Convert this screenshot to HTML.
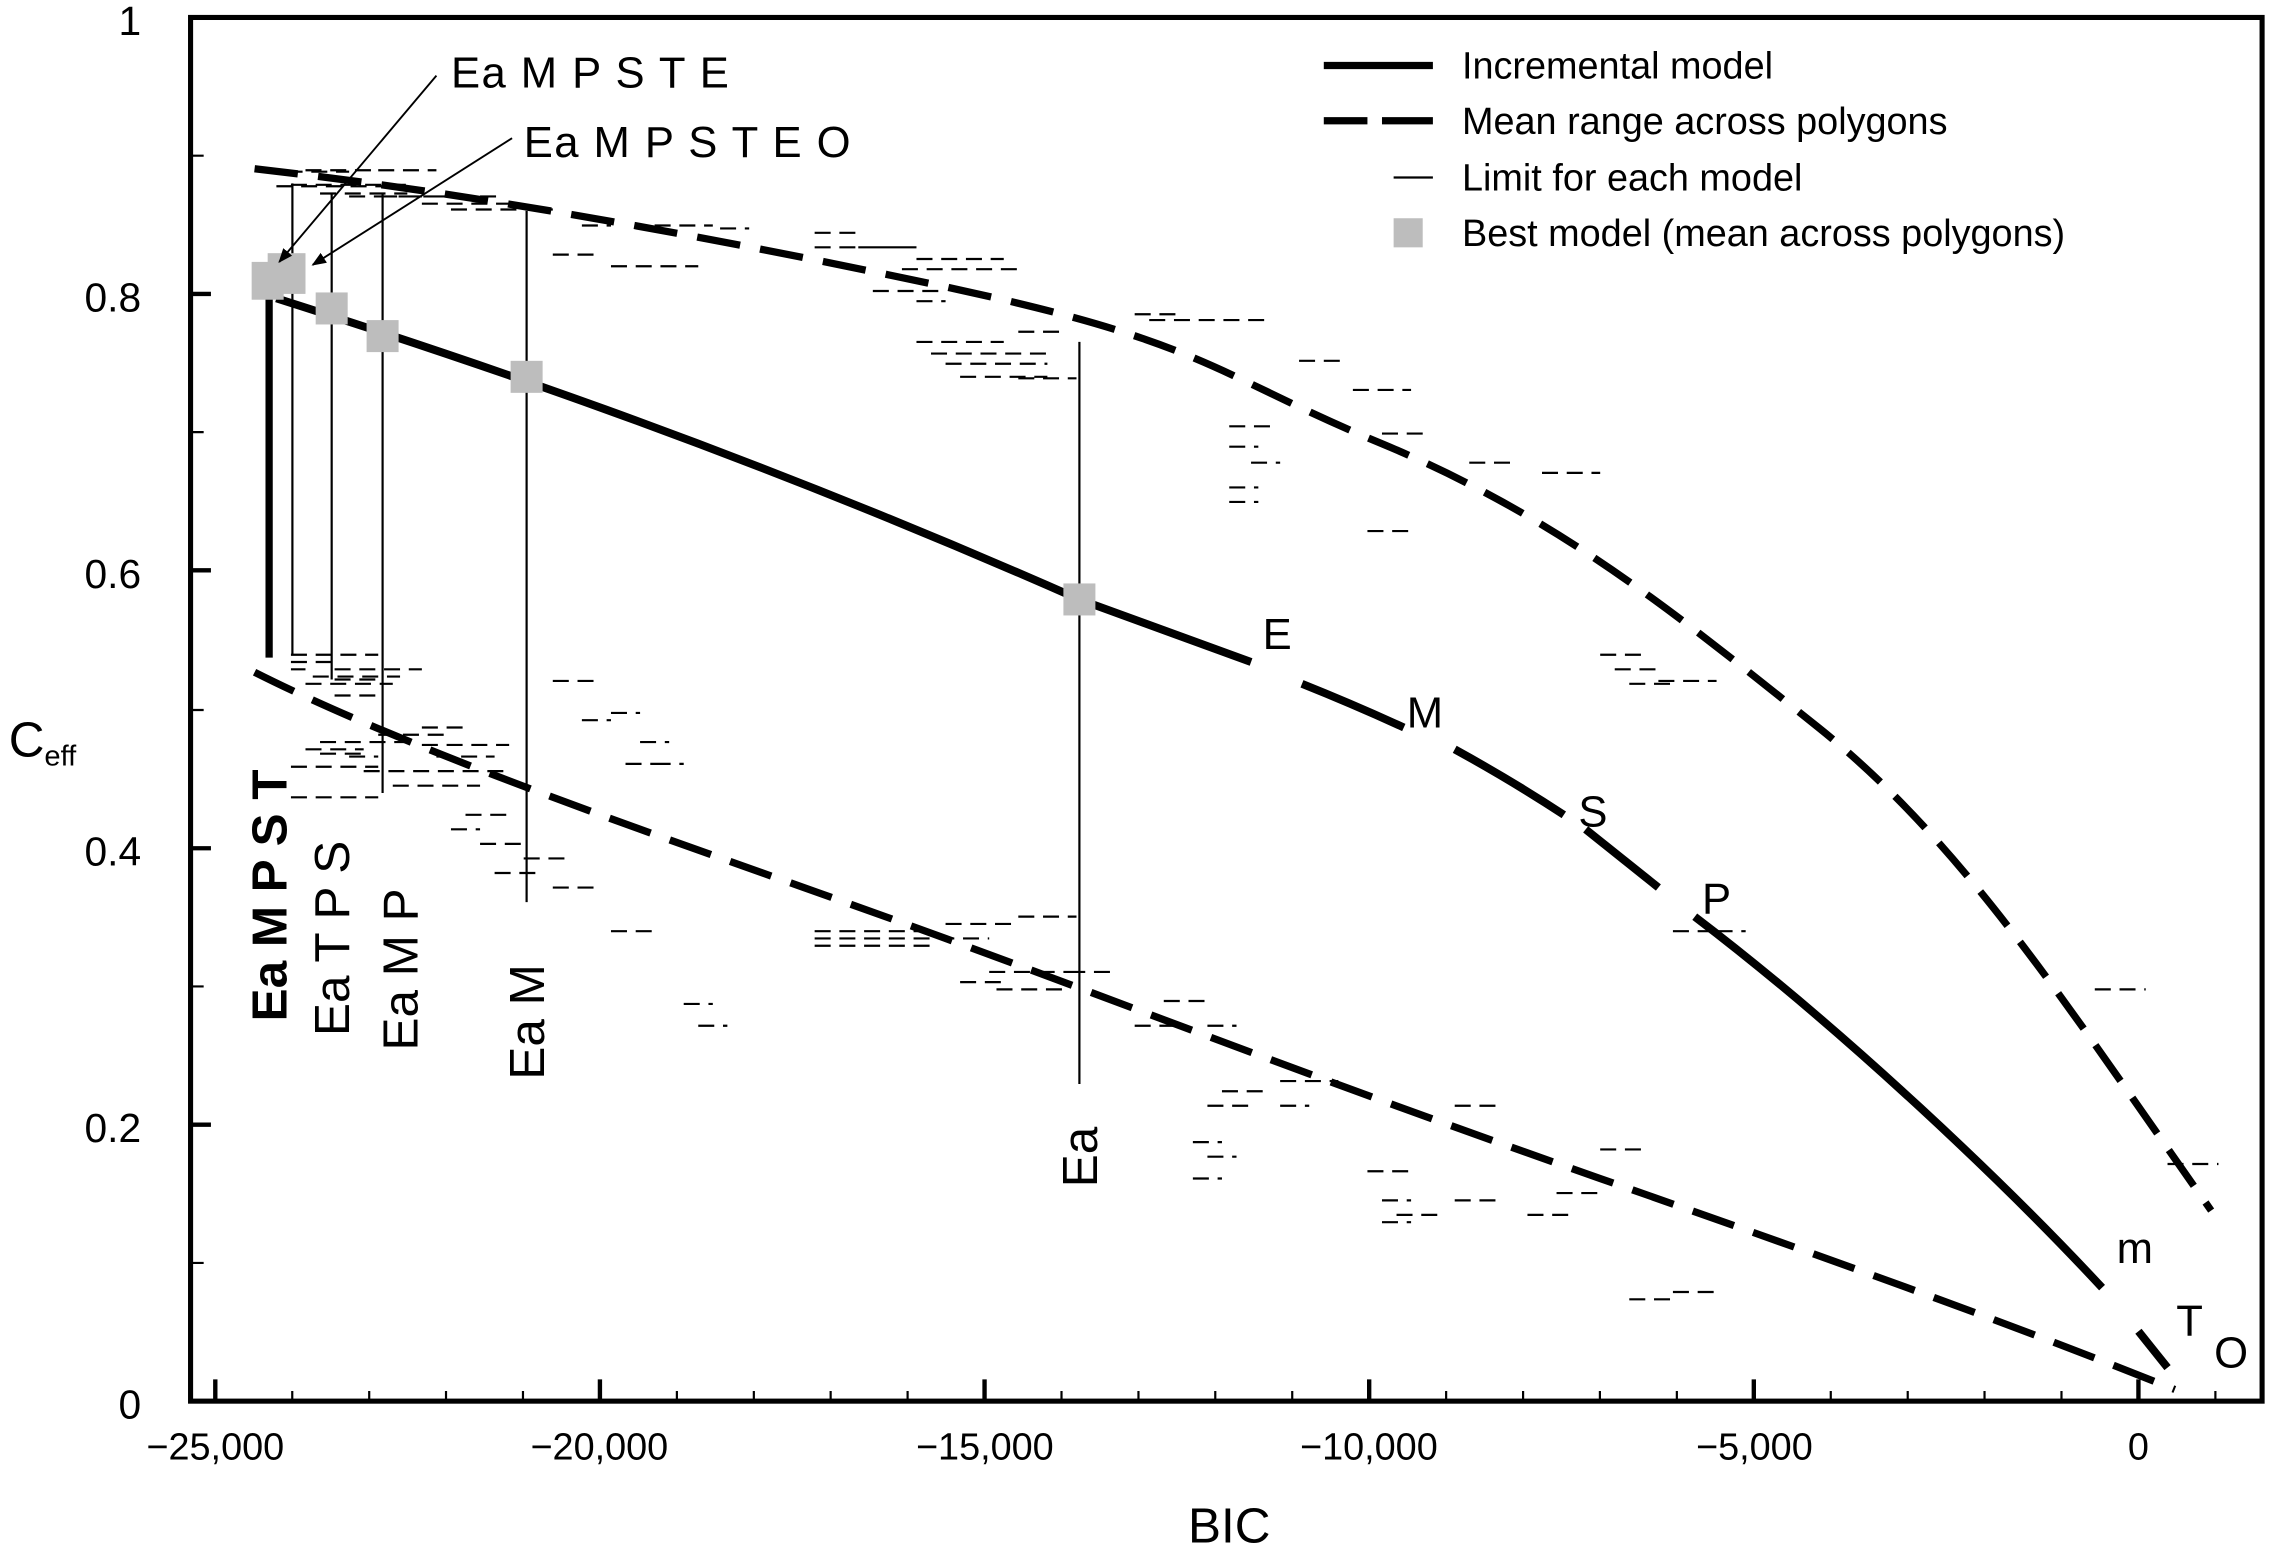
<!DOCTYPE html>
<html><head><meta charset="utf-8"><style>
html,body{margin:0;padding:0;background:#fff}
svg{display:block}
text{font-family:"Liberation Sans",Arial,sans-serif;fill:#000}
</style></head><body>
<svg width="2281" height="1551" viewBox="0 0 1568 1066" preserveAspectRatio="none" xmlns="http://www.w3.org/2000/svg">
<defs><marker id="ar" markerWidth="10" markerHeight="10" refX="9" refY="5" orient="auto" markerUnits="userSpaceOnUse"><path d="M0,1 L10,5 L0,9 Z" fill="#000"/></marker></defs>
<rect x="131" y="12" width="1424" height="951" fill="none" stroke="#000" stroke-width="3.5"/>
<g stroke="#000" stroke-width="1.5">
<path d="M200.9,963v-7M253.8,963v-7M306.6,963v-7M359.5,963v-7M465.3,963v-7M518.2,963v-7M571,963v-7M623.9,963v-7M729.7,963v-7M782.6,963v-7M835.4,963v-7M888.3,963v-7M994.1,963v-7M1047,963v-7M1099.8,963v-7M1152.7,963v-7M1258.5,963v-7M1311.4,963v-7M1364.2,963v-7M1417.1,963v-7M1522.9,963v-7"/>
</g>
<g stroke="#000" stroke-width="3">
<path d="M148,963v-15M412.4,963v-15M676.8,963v-15M941.2,963v-15M1205.6,963v-15M1470,963v-15"/>
<path d="M131,202h14M131,392h14M131,583h14M131,773h14"/>
</g>
<g stroke="#000" stroke-width="1.5"><path d="M131,107h9M131,297h9M131,488h9M131,678h9M131,868h9"/></g>
<g font-size="26" text-anchor="middle">
<text x="148" y="1003">−25,000</text><text x="412" y="1003">−20,000</text><text x="677" y="1003">−15,000</text><text x="941" y="1003">−10,000</text><text x="1206" y="1003">−5,000</text><text x="1470" y="1003">0</text>
</g>
<g font-size="28" text-anchor="end">
<text x="97" y="24">1</text><text x="97" y="214">0.8</text><text x="97" y="404">0.6</text><text x="97" y="595">0.4</text><text x="97" y="785">0.2</text><text x="97" y="975">0</text>
</g>
<text x="845" y="1060" font-size="34" text-anchor="middle">BIC</text>
<text x="6" y="520" font-size="34">C<tspan font-size="20" dy="6">eff</tspan></text>
<g stroke="#000" stroke-width="1.5" stroke-dasharray="11,6">
<path d="M180,118h60M210,117h50M260,117h40M200,127h80M190,128h80M220,133h60M240,135h60M262,135h80M290,140h60M310,144h70M400,155h20M380,175h30M420,183h60M450,155h40M495,157h20M560,160h30M560,170h30M590,170h40M600,170h30M630,178h60M620,185h80M600,200h50M630,207h20M630,235h60M640,243h80M650,250h70M660,259h60M700,260h40M700,228h30M780,216h30M790,220h85M893,248h30M845,293h30M845,307h20M860,318h20M845,335h20M845,345h20M930,268h40M950,298h30M1010,318h30M1060,325h40M940,365h30M1100,450h30M1110,460h30M1120,470h30M1140,468h40M1150,640h30M1180,640h20M1440,680h35M1490,800h35M1150,888h30M1120,893h30M1100,790h30M1000,825h30M1050,835h30M1070,820h30M940,805h30M950,825h20M960,835h30M950,840h20M1000,760h30M880,743h40M830,760h30M840,750h30M820,785h20M830,795h20M820,810h20M880,760h20M800,688h30M780,705h30M830,705h20M735,668h30M680,668h60M685,680h50M660,675h30M700,630h40M560,640h80M560,645h120M560,650h80M650,635h50M470,690h20M480,705h20M420,640h30M340,600h30M360,590h30M380,610h30M330,580h30M310,570h20M320,560h30M300,520h40M290,512h60M240,520h20M220,518h30M210,515h40M220,510h60M260,505h50M290,500h30M200,527h60M250,530h100M270,540h60M200,548h60M200,450h60M200,455h30M215,465h60M230,467h30M210,470h60M230,460h60M380,468h30M420,490h20M440,510h20M430,525h30M450,525h20M400,495h20M230,478h30M200,460h10"/>
</g>
<g stroke="#000">
<path d="M185,195V452" stroke-width="5"/>
<path d="M201,126V450M228,133V467M263,133V545M362,145V620M742,235V745" stroke-width="1.5"/>
</g>
<g fill="none" stroke="#000" stroke-width="5" stroke-dasharray="30,14">
<path d="M175,116 C300,130 450,155 640,195 S830,255 950,305 S1150,420 1250,500 S1420,690 1520,832"/>
<path d="M175,462 C300,525 500,590 650,645 S900,740 1100,810 S1400,917 1495,955"/>
</g>
<g fill="none" stroke="#000" stroke-width="5.5">
<path d="M190,205 C300,240 500,305 742,412 L860,455"/>
<path d="M895,470 Q930,484 965,500"/>
<path d="M1000,515 Q1040,537 1075,560"/>
<path d="M1090,570 Q1115,590 1140,610"/>
<path d="M1165,630 C1270,710 1380,815 1445,885"/>
<path d="M1470,915 L1490,940"/>
</g>
<g fill="#bdbdbd">
<rect x="173" y="180" width="22" height="26"/><rect x="184" y="174" width="26" height="28"/><rect x="217" y="201" width="22" height="22"/><rect x="252" y="220" width="22" height="22"/><rect x="351" y="248" width="22" height="22"/><rect x="731" y="401" width="22" height="22"/>
</g>
<g stroke="#000" stroke-width="1.3">
<line x1="300" y1="52" x2="192" y2="180" marker-end="url(#ar)"/>
<line x1="352" y1="95" x2="215" y2="182" marker-end="url(#ar)"/>
</g>
<text x="310" y="60" font-size="30" letter-spacing="1">Ea M P S T E</text>
<text x="360" y="108" font-size="30" letter-spacing="1">Ea M P S T E O</text>
<g font-size="34">
<text transform="translate(197,702) rotate(-90)" font-weight="bold">Ea M P S T</text>
<text transform="translate(240,712) rotate(-90)">Ea T P S</text>
<text transform="translate(287,722) rotate(-90)">Ea M P</text>
<text transform="translate(374,742) rotate(-90)">Ea M</text>
<text transform="translate(754,816) rotate(-90)">Ea</text>
</g>
<g font-size="30">
<text x="868" y="446">E</text><text x="967" y="500">M</text><text x="1085" y="568">S</text><text x="1170" y="628">P</text><text x="1455" y="868">m</text><text x="1496" y="918">T</text><text x="1522" y="940">O</text>
</g>
<line x1="910" y1="45" x2="985" y2="45" stroke="#000" stroke-width="5"/>
<path d="M910,83h30M950,83h35" stroke="#000" stroke-width="5"/>
<line x1="958" y1="122" x2="985" y2="122" stroke="#000" stroke-width="1.5"/>
<rect x="958" y="150" width="20" height="20" fill="#bdbdbd"/>
<g font-size="26">
<text x="1005" y="54">Incremental model</text>
<text x="1005" y="92">Mean range across polygons</text>
<text x="1005" y="131">Limit for each model</text>
<text x="1005" y="169">Best model (mean across polygons)</text>
</g>
</svg>
</body></html>
